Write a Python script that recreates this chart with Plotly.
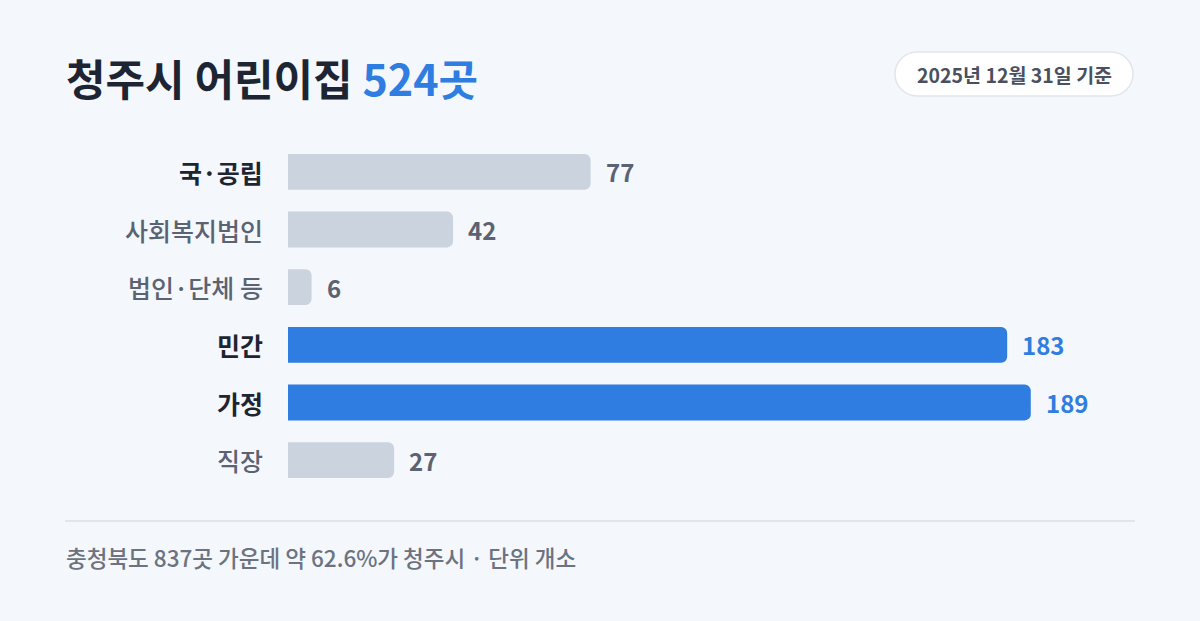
import plotly.graph_objects as go

categories = ["국·공립", "사회복지법인", "법인·단체 등", "민간", "가정", "직장"]
values = [77, 42, 6, 183, 189, 27]
highlight = [False, False, False, True, True, False]
label_bold = [True, False, False, True, True, False]

title_main = "청주시 어린이집 "
title_total = "524곳"
date_text = "2025년 12월 31일 기준"
footer_text = "충청북도 837곳 가운데 약 62.6%가 청주시 · 단위 개소"

W, H = 1200, 621
ML, MR, MT, MB = 288, 126, 143, 132
PW, PH = W - ML - MR, H - MT - MB

BG = "#F4F7FB"
BLUE = "#2F7DE1"
GREY_BAR = "#CBD3DF"
DARK = "#1E2532"
GREY_TXT = "#5B6271"
FONT = "Noto Sans CJK KR"


def px(x):
    return (x - ML) / PW


def py(y):
    return 1 - (y - MT) / PH


bar_colors = [BLUE if h else GREY_BAR for h in highlight]

fig = go.Figure(
    go.Bar(
        x=values,
        y=categories,
        orientation="h",
        width=0.62,
        marker=dict(color=bar_colors, cornerradius=6, line=dict(width=0)),
        hoverinfo="skip",
    )
)

annotations = []
for cat, v, h, b in zip(categories, values, highlight, label_bold):
    annotations.append(dict(
        x=0, y=cat, xref="x", yref="y", xanchor="right", yanchor="middle",
        xshift=-23, text=cat, showarrow=False,
        font=dict(family=FONT, size=25, color=DARK if b else GREY_TXT,
                  weight=700 if b else 500),
    ))
    annotations.append(dict(
        x=v, y=cat, xref="x", yref="y", xanchor="left", yanchor="middle",
        xshift=13, text=str(v), showarrow=False,
        font=dict(family=FONT, size=24, color=BLUE if h else GREY_TXT, weight=700),
    ))

annotations.append(dict(
    x=px(64), y=py(77), xref="paper", yref="paper", xanchor="left", yanchor="middle",
    text=f"{title_main}<span style='color:{BLUE}'>{title_total}</span>",
    showarrow=False, font=dict(family=FONT, size=43, color=DARK, weight=700),
))
annotations.append(dict(
    x=px(1014), y=py(74), xref="paper", yref="paper", xanchor="center", yanchor="middle",
    text=date_text, showarrow=False,
    font=dict(family=FONT, size=19.5, color="#4A5060", weight=700),
))
annotations.append(dict(
    x=px(64), y=py(557), xref="paper", yref="paper", xanchor="left", yanchor="middle",
    text=footer_text, showarrow=False,
    font=dict(family=FONT, size=22.5, color="#6B7280", weight=500),
))

# rounded pill path (pixel sized, symmetric around anchor)
hw, hh, r = 119, 22, 22
k = 0.5523 * r
pill = (
    f"M {-hw + r},{-hh} L {hw - r},{-hh} "
    f"C {hw - r + k},{-hh} {hw},{-hh + r - k} {hw},{-hh + r} "
    f"L {hw},{hh - r} "
    f"C {hw},{hh - r + k} {hw - r + k},{hh} {hw - r},{hh} "
    f"L {-hw + r},{hh} "
    f"C {-hw + r - k},{hh} {-hw},{hh - r + k} {-hw},{hh - r} "
    f"L {-hw},{-hh + r} "
    f"C {-hw},{-hh + r - k} {-hw + r - k},{-hh} {-hw + r},{-hh} Z"
)

shapes = [
    dict(type="path", xref="paper", yref="paper", xsizemode="pixel", ysizemode="pixel",
         xanchor=px(1014), yanchor=py(74), path=pill,
         fillcolor="#FFFFFF", line=dict(color="#E1E5EC", width=1.5), layer="below"),
    dict(type="line", xref="paper", yref="paper", x0=px(65), x1=px(1135),
         y0=py(521), y1=py(521), line=dict(color="#E2E6EC", width=2)),
]

fig.update_layout(
    width=W, height=H,
    margin=dict(l=ML, r=MR, t=MT, b=MB, pad=0),
    paper_bgcolor=BG, plot_bgcolor=BG,
    showlegend=False,
    xaxis=dict(range=[0, 200], visible=False, fixedrange=True),
    yaxis=dict(visible=False, fixedrange=True),
    annotations=annotations,
    shapes=shapes,
    bargap=0.38,
)
fig.update_yaxes(autorange=False, range=[5.5, -0.5])

fig.write_html(
    "out.html",
    config={"displayModeBar": False},
    post_script=f"document.body.style.margin='0';document.body.style.background='{BG}';",
)
